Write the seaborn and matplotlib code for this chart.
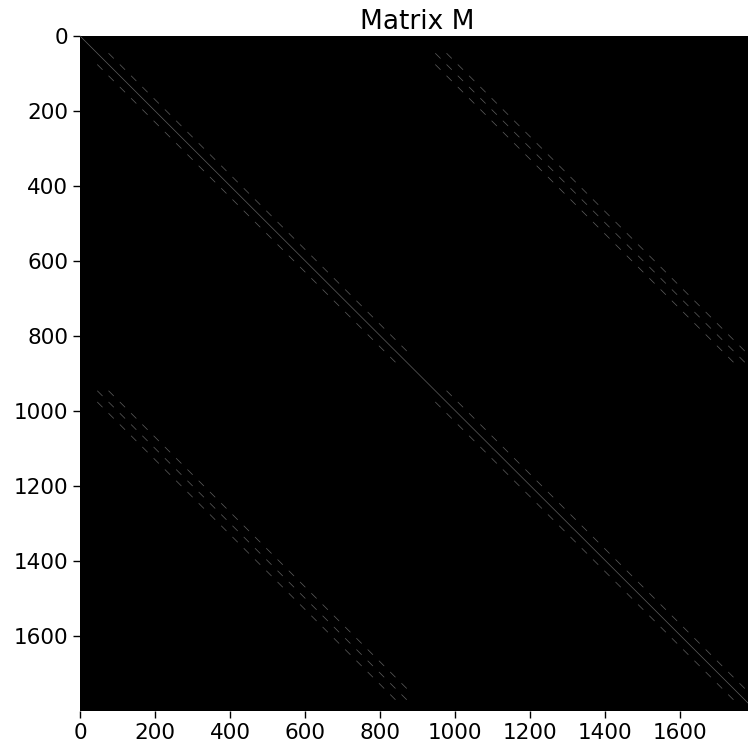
import numpy as np
import matplotlib
matplotlib.use("Agg")
import matplotlib.pyplot as plt
import seaborn as sns

# Two coupled fields on a 30 x 30 grid of nodes
grid_n = 30
n_fields = 2

# Stencil inside one field: offsets in node index and coefficient magnitudes
self_offsets = [-30, 0, 30]
self_values = [0.55, 1.0, 0.55]

# Stencil coupling field 1 <-> field 2
coupling_offsets = [-30, 0, 30]
coupling_values = [0.5, 0.8, 0.5]

# Value on the diagonal for nodes outside the active region
diag_floor = 0.5

# Grid rows / in-row positions of the nodes that carry the stencil
active_rows = list(range(1, 29))
active_cols = list(range(16, 30))

tick_values = [0, 200, 400, 600, 800, 1000, 1200, 1400, 1600]
title_text = "Matrix M"

n_nodes = grid_n * grid_n
size = n_fields * n_nodes


def is_active(k):
    return 0 <= k < n_nodes and (k // grid_n) in active_rows and (k % grid_n) in active_cols


M = np.zeros((size, size))
for f in range(n_fields):
    base = f * n_nodes
    for k in range(n_nodes):
        M[base + k, base + k] = diag_floor
for k in range(n_nodes):
    if not is_active(k):
        continue
    for f in range(n_fields):
        base = f * n_nodes
        for off, val in zip(self_offsets, self_values):
            j = k + off
            if is_active(j):
                M[base + k, base + j] = val
    for off, val in zip(coupling_offsets, coupling_values):
        j = k + off
        if is_active(j):
            M[k, n_nodes + j] = val
            M[n_nodes + j, k] = val

sns.set_style("ticks")
plt.rcParams["font.family"] = ["DejaVu Sans"]
plt.rcParams["text.color"] = "black"
gray = sns.color_palette("gray", as_cmap=True)

fig = plt.figure(figsize=(7.48, 7.45), dpi=100)
ax = fig.add_axes([80 / 748, 34 / 745, 675 / 748, 675 / 745])
ax.imshow(M, cmap=gray, vmin=0, vmax=0.5)
ax.set_xticks(tick_values)
ax.set_yticks(tick_values)
ax.tick_params(labelsize=15.5, length=5, width=1, colors="black")
for s in ax.spines.values():
    s.set_visible(False)
ax.set_title(title_text, fontsize=19, pad=5, color="black")
fig.savefig("out.png", dpi=100, facecolor="white")
